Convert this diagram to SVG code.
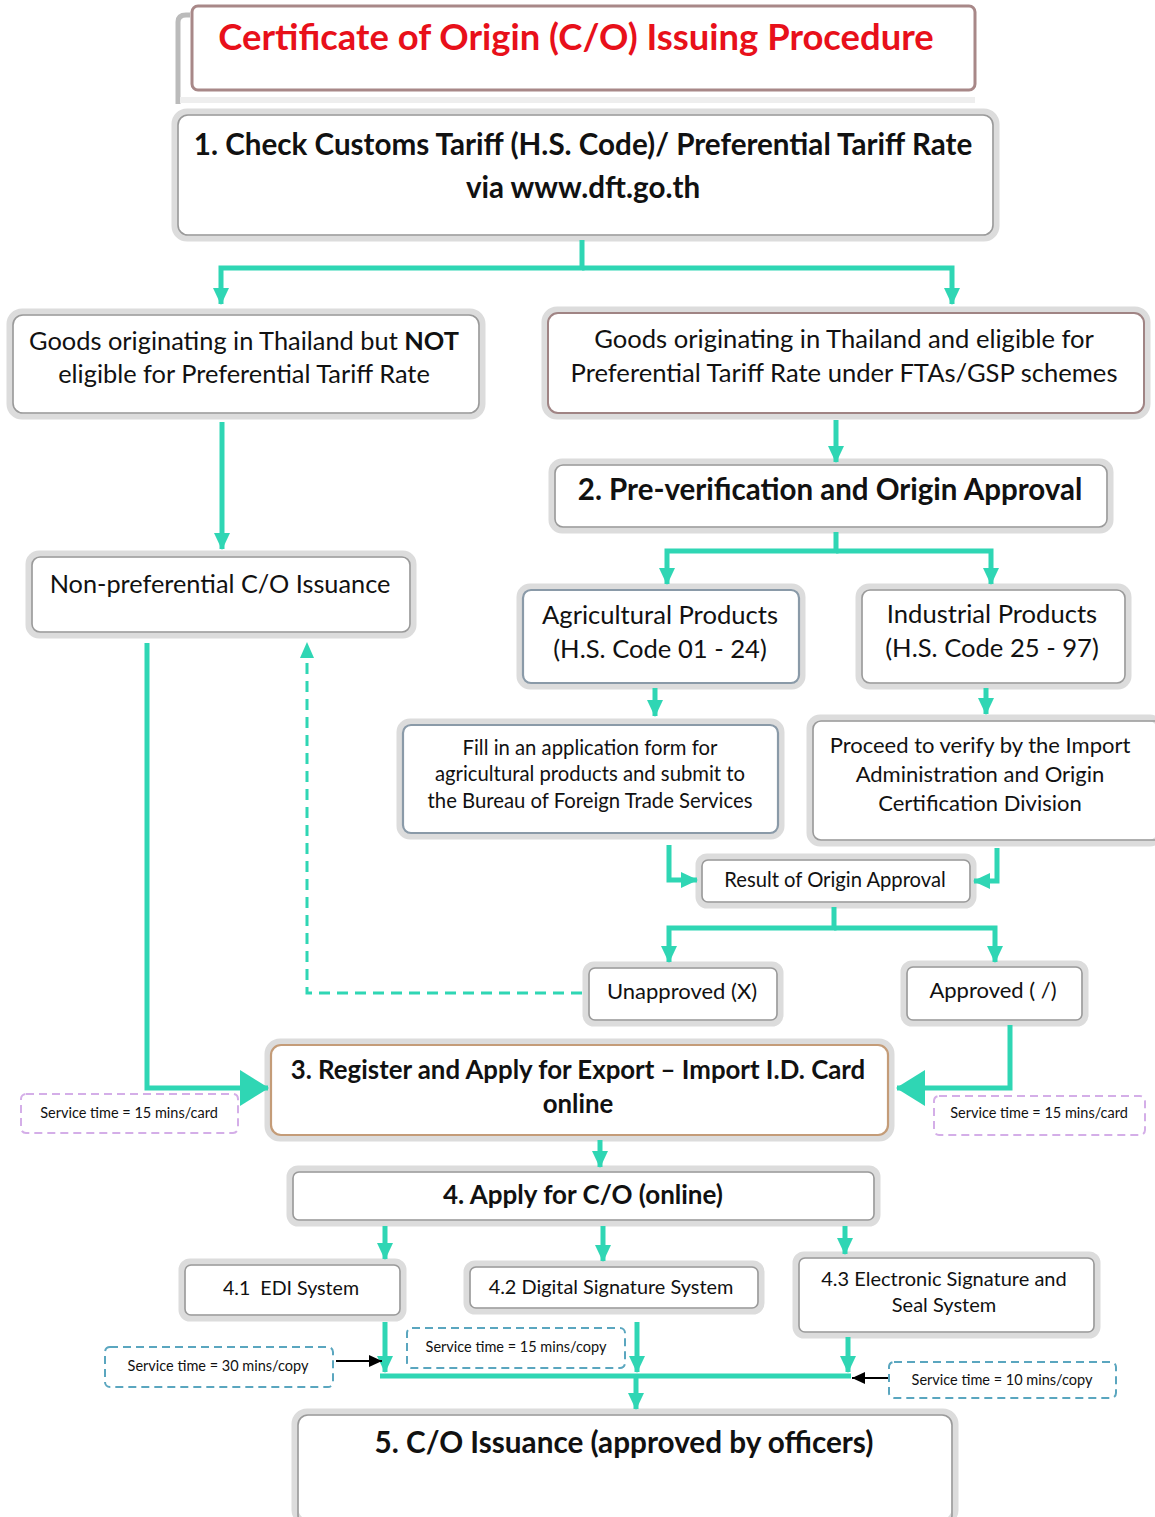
<svg xmlns="http://www.w3.org/2000/svg" width="1155" height="1517" viewBox="0 0 1155 1517">
<defs>
<style>
.t{font-family:Lato,"Liberation Sans",sans-serif;fill:#111;text-anchor:middle}
.b{font-weight:bold}
.box-o{fill:#fff;stroke:#dcdcdc;stroke-width:7}
.box-i{fill:none;stroke:#9a9a9a;stroke-width:1.6}
.blu{fill:none;stroke:#8a9aa8;stroke-width:2.2}
.c{fill:none;stroke:#2fd6b4;stroke-width:5}
.cd{fill:none;stroke:#2fd6b4;stroke-width:3;stroke-dasharray:11 7}
.sv{fill:#fff;stroke:#5aa6bf;stroke-width:2;stroke-dasharray:8 5}
.sp{fill:#fff;stroke:#d4aee8;stroke-width:2;stroke-dasharray:8 5}
.k{fill:none;stroke:#000;stroke-width:2}
</style>
<marker id="a" markerUnits="userSpaceOnUse" markerWidth="18" markerHeight="18" refX="16" refY="9" orient="auto"><path d="M0,1 L17,9 L0,17 Z" fill="#2fd6b4"/></marker>
<marker id="aL" markerUnits="userSpaceOnUse" markerWidth="30" markerHeight="40" refX="28" refY="20" orient="auto"><path d="M0,2 L29,20 L0,38 Z" fill="#2fd6b4"/></marker>
<marker id="ak" markerUnits="userSpaceOnUse" markerWidth="14" markerHeight="14" refX="13" refY="7" orient="auto"><path d="M0,1 L13,7 L0,13 Z" fill="#000"/></marker>
</defs>

<g id="title">
<path d="M178,104 L178,22 Q178,15 186,15 L190,15" fill="none" stroke="#bbb" stroke-width="5"/>
<rect x="192" y="6" width="783" height="84" rx="6" fill="#fff" stroke="#a88888" stroke-width="3"/>
<path d="M180,100 L975,100" stroke="#eee" stroke-width="6"/>
<text class="t b" x="576" y="50" font-size="36.4" style="fill:#e8101a">Certificate of Origin (C/O) Issuing Procedure</text>
</g>

<g id="n1">
<rect class="box-o" x="175" y="112" width="821" height="126" rx="12"/>
<rect class="box-i" x="178" y="115" width="815" height="120" rx="10"/>
<text class="t b" x="583" y="155" font-size="29.6">1. Check Customs Tariff (H.S. Code)/ Preferential Tariff Rate</text>
<text class="t b" x="583" y="198" font-size="29.6">via www.dft.go.th</text>
</g>

<g id="n_notelig">
<rect class="box-o" x="10" y="312" width="472" height="104" rx="12"/>
<rect class="box-i" x="13" y="315" width="466" height="98" rx="10"/>
<text class="t" x="244" y="350" font-size="25.4">Goods originating in Thailand but <tspan font-weight="bold">NOT</tspan></text>
<text class="t" x="244" y="383" font-size="25.4">eligible for Preferential Tariff Rate</text>
</g>

<g id="n_elig">
<rect class="box-o" x="545" y="310" width="602" height="106" rx="12"/>
<rect x="548" y="313" width="596" height="100" rx="10" fill="none" stroke="#a08484" stroke-width="2"/>
<text class="t" x="844" y="348" font-size="25.6">Goods originating in Thailand and eligible for</text>
<text class="t" x="844" y="382" font-size="25.6">Preferential Tariff Rate under FTAs/GSP schemes</text>
</g>

<g id="n2">
<rect class="box-o" x="552" y="462" width="558" height="68" rx="10"/>
<rect class="box-i" x="555" y="465" width="552" height="62" rx="8"/>
<text class="t b" x="830" y="500" font-size="29.5">2. Pre-verification and Origin Approval</text>
</g>

<g id="n_nonpref">
<rect class="box-o" x="29" y="554" width="384" height="81" rx="10"/>
<rect class="box-i" x="32" y="557" width="378" height="75" rx="8"/>
<text class="t" x="220" y="593" font-size="25.3">Non-preferential C/O Issuance</text>
</g>

<g id="n_agri">
<rect class="box-o" x="520" y="587" width="282" height="99" rx="10"/>
<rect class="blu" x="523" y="590" width="276" height="93" rx="8"/>
<text class="t" x="660" y="624" font-size="25.6">Agricultural Products</text>
<text class="t" x="660" y="658" font-size="25.6">(H.S. Code 01 - 24)</text>
</g>

<g id="n_ind">
<rect class="box-o" x="859" y="587" width="269" height="99" rx="10"/>
<rect class="box-i" x="862" y="590" width="263" height="93" rx="8"/>
<text class="t" x="992" y="623" font-size="25.6">Industrial Products</text>
<text class="t" x="992" y="657" font-size="25.6">(H.S. Code 25 - 97)</text>
</g>

<g id="n_fill">
<rect class="box-o" x="400" y="722" width="381" height="114" rx="10"/>
<rect class="blu" x="403" y="725" width="375" height="108" rx="8"/>
<text class="t" x="590" y="755" font-size="20.3">Fill in an application form for</text>
<text class="t" x="590" y="781" font-size="20.3">agricultural products and submit to</text>
<text class="t" x="590" y="808" font-size="20.3">the Bureau of Foreign Trade Services</text>
</g>

<g id="n_proceed">
<rect class="box-o" x="810" y="718" width="350" height="125" rx="10"/>
<rect class="box-i" x="813" y="721" width="350" height="119" rx="8"/>
<text class="t" x="980" y="753" font-size="22">Proceed to verify by the Import</text>
<text class="t" x="980" y="782" font-size="22">Administration and Origin</text>
<text class="t" x="980" y="811" font-size="22">Certification Division</text>
</g>

<g id="n_result">
<rect class="box-o" x="699" y="857" width="274" height="48" rx="8"/>
<rect class="box-i" x="702" y="860" width="268" height="42" rx="6"/>
<text class="t" x="835" y="887" font-size="20.2">Result of Origin Approval</text>
</g>

<g id="n_unapp">
<rect class="box-o" x="586" y="965" width="194" height="58" rx="8"/>
<rect class="box-i" x="589" y="968" width="188" height="52" rx="6"/>
<text class="t" x="682" y="999" font-size="22">Unapproved (X)</text>
</g>

<g id="n_app">
<rect class="box-o" x="904" y="964" width="181" height="59" rx="8"/>
<rect class="box-i" x="907" y="967" width="175" height="53" rx="6"/>
<text class="t" x="993" y="998" font-size="22">Approved ( /)</text>
</g>

<g id="n3">
<rect class="box-o" x="268" y="1042" width="623" height="96" rx="12"/>
<rect x="271" y="1045" width="617" height="90" rx="10" fill="none" stroke="#c49c78" stroke-width="2.2"/>
<text class="t b" x="578" y="1079" font-size="25.8">3. Register and Apply for Export – Import I.D. Card</text>
<text class="t b" x="578" y="1113" font-size="25.8">online</text>
</g>

<g id="n4">
<rect class="box-o" x="290" y="1169" width="587" height="54" rx="8"/>
<rect class="box-i" x="293" y="1172" width="581" height="48" rx="6"/>
<text class="t b" x="583" y="1204" font-size="26">4. Apply for C/O (online)</text>
</g>

<g id="n41">
<rect class="box-o" x="182" y="1262" width="221" height="56" rx="8"/>
<rect class="box-i" x="185" y="1265" width="215" height="50" rx="6"/>
<text class="t" x="291" y="1295" font-size="19.6" xml:space="preserve">4.1  EDI System</text>
</g>

<g id="n42">
<rect class="box-o" x="467" y="1264" width="294" height="47" rx="8"/>
<rect class="box-i" x="470" y="1267" width="288" height="41" rx="6"/>
<text class="t" x="611" y="1294" font-size="19.9">4.2 Digital Signature System</text>
</g>

<g id="n43">
<rect class="box-o" x="796" y="1255" width="301" height="80" rx="8"/>
<rect class="box-i" x="799" y="1258" width="295" height="74" rx="6"/>
<text class="t" x="944" y="1286" font-size="20">4.3 Electronic Signature and</text>
<text class="t" x="944" y="1312" font-size="20">Seal System</text>
</g>

<g id="n5">
<rect class="box-o" x="295" y="1412" width="660" height="110" rx="12"/>
<rect class="box-i" x="298" y="1415" width="654" height="110" rx="10"/>
<text class="t b" x="624" y="1453" font-size="29.7">5. C/O Issuance (approved by officers)</text>
</g>

<g id="notes">
<rect class="sp" x="21" y="1094" width="217" height="39" rx="5"/>
<text class="t" x="129" y="1118" font-size="14.5">Service time = 15 mins/card</text>
<rect class="sp" x="934" y="1096" width="211" height="39" rx="5"/>
<text class="t" x="1039" y="1118" font-size="14.5">Service time = 15 mins/card</text>
<rect class="sv" x="105" y="1347" width="228" height="40" rx="5"/>
<text class="t" x="218" y="1371" font-size="14.5">Service time = 30 mins/copy</text>
<rect class="sv" x="407" y="1328" width="218" height="40" rx="5"/>
<text class="t" x="516" y="1352" font-size="14.5">Service time = 15 mins/copy</text>
<rect class="sv" x="889" y="1362" width="227" height="36" rx="5"/>
<text class="t" x="1002" y="1385" font-size="14.5">Service time = 10 mins/copy</text>
</g>

<g id="connectors">
<path class="c" d="M582,240 V268 H221 V304" marker-end="url(#a)"/>
<path class="c" d="M582,268 H952 V304" marker-end="url(#a)"/>
<path class="c" d="M222,422 V549" marker-end="url(#a)"/>
<path class="c" d="M836,420 V462" marker-end="url(#a)"/>
<path class="c" d="M836,532 V551 H667 V584" marker-end="url(#a)"/>
<path class="c" d="M836,551 H991 V584" marker-end="url(#a)"/>
<path class="c" d="M655,688 V716" marker-end="url(#a)"/>
<path class="c" d="M986,688 V714" marker-end="url(#a)"/>
<path class="c" d="M669,845 V880 H697" marker-end="url(#a)"/>
<path class="c" d="M997,848 V881 H974" marker-end="url(#a)"/>
<path class="c" d="M834,907 V928 H669 V962" marker-end="url(#a)"/>
<path class="c" d="M834,928 H995 V962" marker-end="url(#a)"/>
<path class="cd" d="M582,993 H307 V660"/>
<path d="M300,658 L307,642 L314,658 Z" fill="#2fd6b4"/>
<path class="c" d="M147,643 V1088 H268" marker-end="url(#aL)"/>
<path class="c" d="M1010,1025 V1088 H897" marker-end="url(#aL)"/>
<path class="c" d="M600,1140 V1167" marker-end="url(#a)"/>
<path class="c" d="M385,1226 V1259" marker-end="url(#a)"/>
<path class="c" d="M603,1226 V1261" marker-end="url(#a)"/>
<path class="c" d="M845,1226 V1254" marker-end="url(#a)"/>
<path class="c" d="M385,1322 V1372" marker-end="url(#a)"/>
<path class="c" d="M637,1322 V1372" marker-end="url(#a)"/>
<path class="c" d="M848,1337 V1372" marker-end="url(#a)"/>
<path class="c" d="M380,1376 H851"/>
<path class="c" d="M636,1376 V1409" marker-end="url(#a)"/>
<path class="k" d="M336,1361 H382" marker-end="url(#ak)"/>
<path class="k" d="M888,1378 H852" marker-end="url(#ak)"/>
</g>
</svg>
